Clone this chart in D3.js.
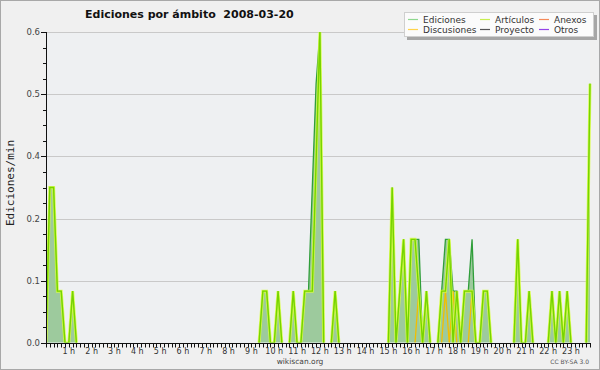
<!DOCTYPE html>
<html><head><meta charset="utf-8">
<script src="https://cdn.jsdelivr.net/npm/d3@7/dist/d3.min.js"></script>
<style>body{margin:0;background:#f0f0f0} svg{display:block}</style>
</head><body>
<svg id="c" width="600" height="370"></svg>
<script>
const titleText = "Ediciones por ámbito  2008-03-20";
const yAxisTitle = "Ediciones/min";
const hourLabels = ["1 h","2 h","3 h","4 h","5 h","6 h","7 h","8 h","9 h","10 h","11 h","12 h",
  "13 h","14 h","15 h","16 h","17 h","18 h","19 h","20 h","21 h","22 h","23 h"];
const yTicks = [0, 0.12, 0.24, 0.36, 0.48, 0.6];
const yTickLabels = ["0.0","0.1","0.2","0.4","0.5","0.6"];
const yMinorTicks = [0.03,0.06,0.09,0.15,0.18,0.21,0.27,0.30,0.33,0.39,0.42,0.45,0.51,0.54,0.57];
const legendNames = ["Ediciones","Artículos","Anexos","Discusiones","Proyecto","Otros"];
const legendColors = ["#8fd88f","#c8ee50","#f58a5a","#ffd34a","#555555","#9444e8"];

// 10-minute buckets, 00:00 .. 23:50 (144 values), edits/min
const ediciones = [
  0,0.3,0.3,0.1,0.1,0,0,0.1,0,0,0,0,
  0,0,0,0,0,0,0,0,0,0,0,0,
  0,0,0,0,0,0,0,0,0,0,0,0,
  0,0,0,0,0,0,0,0,0,0,0,0,
  0,0,0,0,0,0,0,0,0,0.1,0.1,0,
  0,0.1,0,0,0,0.1,0,0,0.1,0.1,0.3,0.5,
  0.6,0,0,0,0.1,0,0,0,0,0,0,0,
  0,0,0,0,0,0,0,0.3,0,0.1,0.2,0,
  0.2,0.2,0.2,0,0.1,0,0,0,0.1,0.2,0.2,0.1,
  0.1,0,0.1,0.1,0.2,0,0,0.1,0.1,0,0,0,
  0,0,0,0,0.2,0,0,0.1,0,0,0,0,
  0,0.1,0,0.1,0,0.1,0,0,0,0,0,0.5
];
const articulos = [
  0,0.3,0.3,0.1,0.1,0,0,0.1,0,0,0,0,
  0,0,0,0,0,0,0,0,0,0,0,0,
  0,0,0,0,0,0,0,0,0,0,0,0,
  0,0,0,0,0,0,0,0,0,0,0,0,
  0,0,0,0,0,0,0,0,0,0.1,0.1,0,
  0,0.1,0,0,0,0.1,0,0,0.1,0.1,0.1,0.35,
  0.6,0,0,0,0.1,0,0,0,0,0,0,0,
  0,0,0,0,0,0,0,0.3,0,0.1,0.2,0,
  0.2,0.2,0.1,0,0.1,0,0,0,0.1,0.1,0.2,0,
  0.1,0,0.1,0.1,0.1,0,0,0.1,0.1,0,0,0,
  0,0,0,0,0.2,0,0,0.1,0,0,0,0,
  0,0.1,0,0.1,0,0.1,0,0,0,0,0,0.5
];
const discusiones = [
  0,0,0,0,0,0,0,0,0,0,0,0,
  0,0,0,0,0,0,0,0,0,0,0,0,
  0,0,0,0,0,0,0,0,0,0,0,0,
  0,0,0,0,0,0,0,0,0,0,0,0,
  0,0,0,0,0,0,0,0,0,0,0,0,
  0,0,0,0,0,0,0,0,0,0,0,0,
  0,0,0,0,0,0,0,0,0,0,0,0,
  0,0,0,0,0,0,0,0,0,0,0,0,
  0,0,0.1,0,0,0,0,0,0,0.1,0,0.1,
  0,0,0,0,0.1,0,0,0,0,0,0,0,
  0,0,0,0,0,0,0,0,0,0,0,0,
  0,0,0,0,0,0,0,0,0,0,0,0
];

const svg = d3.select("#c");
const L = 46, R = 590, T = 32, B = 343;
const x = d3.scaleLinear().domain([0, ediciones.length - 1]).range([L, R]);
const y = d3.scaleLinear().domain([0, 0.6]).range([B, T]);
const sans = "'DejaVu Sans', Verdana, sans-serif";

svg.append("rect").attr("x",0.5).attr("y",0.5).attr("width",599).attr("height",369)
  .attr("fill","#f0f0f0").attr("stroke","#a8a8a8");
svg.append("rect").attr("x",L).attr("y",T).attr("width",R-L).attr("height",B-T).attr("fill","#eef0f2");

// grid
svg.append("g").selectAll("line").data(yTicks.slice(1)).join("line")
  .attr("x1",L).attr("x2",R).attr("y1",d=>Math.round(y(d))+0.5).attr("y2",d=>Math.round(y(d))+0.5)
  .attr("stroke","#c9c9c9").attr("stroke-width",1);

svg.append("clipPath").attr("id","clip").append("rect")
  .attr("x",L).attr("y",0).attr("width",R-L+4).attr("height",B-0.5);
const g = svg.append("g").attr("clip-path","url(#clip)");

const area = d3.area().x((d,i)=>x(i)).y0(y(0)).y1(d=>y(d));
// only draw segments that touch a non-zero value (no stroke along the baseline)
const line = d3.line()
  .defined((d,i,a)=> d>0 || (i>0 && a[i-1]>0) || (i<a.length-1 && a[i+1]>0))
  .x((d,i)=>x(i)).y(d=>y(d));

g.append("path").datum(ediciones).attr("d",area).attr("fill","#9dca9d");
g.append("path").datum(ediciones).attr("d",line).attr("fill","none").attr("stroke","#2f9e3a").attr("stroke-width",1.3);
g.append("path").datum(discusiones).attr("d",line).attr("fill","none").attr("stroke","#f2be00").attr("stroke-width",1.3);
g.append("path").datum(articulos).attr("d",line).attr("fill","none").attr("stroke","#d8ff3c").attr("stroke-width",3).attr("stroke-opacity",0.85);
g.append("path").datum(articulos).attr("d",line).attr("fill","none").attr("stroke","#76d400").attr("stroke-width",1.4);

// y axis
const ya = svg.append("g");
ya.append("line").attr("x1",L+0.5).attr("x2",L+0.5).attr("y1",T).attr("y2",B+0.5).attr("stroke","#111");
ya.selectAll(".mj").data(yTicks).join("line").attr("class","mj")
  .attr("x1",L-5).attr("x2",L).attr("y1",d=>Math.round(y(d))+0.5).attr("y2",d=>Math.round(y(d))+0.5).attr("stroke","#111");
ya.selectAll(".mn").data(yMinorTicks).join("line").attr("class","mn")
  .attr("x1",L-3).attr("x2",L).attr("y1",d=>Math.round(y(d))+0.5).attr("y2",d=>Math.round(y(d))+0.5).attr("stroke","#111");
ya.selectAll("text").data(yTicks).join("text")
  .attr("x",L-6).attr("y",d=>y(d)).attr("dy","0.35em").attr("text-anchor","end")
  .attr("font-family",sans).attr("font-size",8.5).attr("fill","#444")
  .text((d,i)=>yTickLabels[i]);

// x axis
const xa = svg.append("g");
xa.append("line").attr("x1",L).attr("x2",R+1).attr("y1",B+0.5).attr("y2",B+0.5).attr("stroke","#111");
xa.selectAll("line.t").data(ediciones).join("line").attr("class","t")
  .attr("x1",(d,i)=>Math.round(x(i))+0.5).attr("x2",(d,i)=>Math.round(x(i))+0.5)
  .attr("y1",B).attr("y2",B+4.5).attr("stroke","#111");
xa.selectAll("text").data(hourLabels).join("text")
  .attr("x",(d,i)=>x((i+1)*6)).attr("y",B+11).attr("text-anchor","middle")
  .attr("font-family",sans).attr("font-size",8).attr("fill","#333").text(d=>d);

// titles
svg.append("text").attr("x",85).attr("y",18).attr("font-family",sans).attr("font-weight","bold")
  .attr("font-size",11).attr("fill","#111").style("white-space","pre").text(titleText);
svg.append("text").attr("transform","translate(14,183) rotate(-90)").attr("text-anchor","middle")
  .attr("font-family","'DejaVu Sans Mono', monospace").attr("font-size",11).attr("fill","#222").text(yAxisTitle);
svg.append("text").attr("x",300).attr("y",364).attr("text-anchor","middle")
  .attr("font-family",sans).attr("font-size",7.5).attr("fill","#444").text("wikiscan.org");
svg.append("text").attr("x",589).attr("y",364).attr("text-anchor","end")
  .attr("font-family",sans).attr("font-size",6).attr("fill","#555").text("CC BY-SA 3.0");

// legend
const lg = svg.append("g");
lg.append("rect").attr("x",407).attr("y",15).attr("width",190).attr("height",25).attr("fill","#a6a6a6");
lg.append("rect").attr("x",404.5).attr("y",12.5).attr("width",189).attr("height",24).attr("fill","#fbfbfb").attr("stroke","#cfcfcf");
const colX = [408, 480, 539];
const rowY = [19.5, 29.5];
const order = [0,1,2,3,4,5];
lg.selectAll("g.it").data(order).join("g").attr("class","it")
  .attr("transform",(d,i)=>`translate(${colX[i%3]},${rowY[Math.floor(i/3)]})`)
  .each(function(d){
    const s = d3.select(this);
    s.append("line").attr("x1",0).attr("x2",10).attr("y1",0).attr("y2",0)
      .attr("stroke",legendColors[d]).attr("stroke-width",1.2);
    s.append("text").attr("x",15).attr("y",0).attr("dy","0.35em")
      .attr("font-family",sans).attr("font-size",9).attr("fill","#333").text(legendNames[d]);
  });
</script>
</body></html>
